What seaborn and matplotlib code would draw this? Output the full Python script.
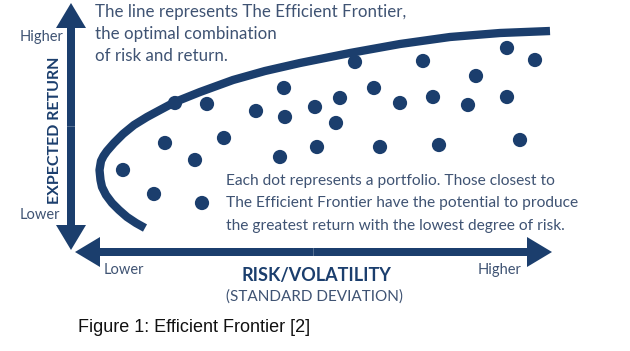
import matplotlib
matplotlib.use("Agg")
import matplotlib.pyplot as plt
import seaborn as sns
import pandas as pd

# Portfolios: risk (x) and expected return (y), in drawing units of the canvas
portfolio_risk = [123, 154, 202, 165, 195, 175, 207, 224, 256, 284, 285, 280, 315, 317,
                  355, 340, 336, 374, 400, 380, 423, 433, 439, 476, 468, 507, 507, 535, 520]
portfolio_return = [181, 157, 148, 208, 191, 248, 247, 213, 240, 263, 234, 194, 244, 204,
                    289, 253, 228, 263, 248, 204, 290, 254, 206, 275, 246, 303, 254, 291, 211]

# The efficient frontier, traced from its lower tip round the nose and out to the right
frontier_risk = [145, 136, 127, 119, 112, 106, 102, 100.5, 99.5, 99.5, 101, 103.5, 107,
                 114, 123, 134, 147, 160, 175, 200, 233, 265, 300, 350, 400, 450, 500, 550]
frontier_return = [123, 128, 134, 141, 148, 156, 164, 171, 178, 184, 190, 195, 200,
                   208, 217, 226, 234, 241, 249, 259, 271, 280, 288, 298, 307, 314, 318, 320]

axis_title_x = "RISK/VOLATILITY"
axis_subtitle_x = "(STANDARD DEVIATION)"
axis_title_y = "EXPECTED RETURN"
low_label, high_label = "Lower", "Higher"
frontier_note = ["The line represents The Efficient Frontier,",
                 "the optimal combination",
                 "of risk and return."]
dot_note = ["Each dot represents a portfolio. Those closest to",
            "The Efficient Frontier have the potential to produce",
            "the greatest return with the lowest degree of risk."]
caption = "Figure 1: Efficient Frontier [2]"

NAVY = "#1b3e6d"
TEXT = "#3f5373"

sns.set_theme(style="white")
plt.rcParams["font.family"] = ["Lato", "DejaVu Sans"]

fig = plt.figure(figsize=(6.30, 3.51), dpi=100)
ax = fig.add_axes([0, 0, 1, 1])
ax.set_xlim(0, 630)
ax.set_ylim(0, 351)
ax.axis("off")

frontier = pd.DataFrame({"risk": frontier_risk, "ret": frontier_return})
sns.lineplot(data=frontier, x="risk", y="ret", sort=False, ax=ax, color=NAVY,
             linewidth=6.0, solid_capstyle="butt", solid_joinstyle="round")

portfolios = pd.DataFrame({"risk": portfolio_risk, "ret": portfolio_return})
sns.scatterplot(data=portfolios, x="risk", y="ret", ax=ax, color=NAVY, s=105,
                edgecolor="none", zorder=3)
ax.set_xlabel("")
ax.set_ylabel("")

# Double-headed axis arrows
arrow_kw = dict(width=8, head_width=30, head_length=25, length_includes_head=True,
                color=NAVY, linewidth=0)
vx, vy0, vy1 = 71, 101, 348
vmid = (vy0 + vy1) / 2
ax.arrow(vx, vmid, 0, vy1 - vmid, **arrow_kw)
ax.arrow(vx, vmid, 0, vy0 - vmid, **arrow_kw)
hy, hx0, hx1 = 99, 75, 552
hmid = (hx0 + hx1) / 2
ax.arrow(hmid, hy, hx1 - hmid, 0, **arrow_kw)
ax.arrow(hmid, hy, hx0 - hmid, 0, **arrow_kw)

# Annotations
for i, line in enumerate(frontier_note):
    ax.text(95, 334 - 22 * i, line, fontsize=12.2, color=TEXT, va="baseline", ha="left")
for i, line in enumerate(dot_note):
    ax.text(226, 166 - 22.5 * i, line, fontsize=11.2, color=TEXT, va="baseline", ha="left")

ax.text(20, 314, high_label, fontsize=10.5, color=TEXT, va="center", ha="left")
ax.text(20, 136, low_label, fontsize=10.5, color=TEXT, va="center", ha="left")
ax.text(104, 81, low_label, fontsize=10.5, color=TEXT, va="center", ha="left")
ax.text(478, 81, high_label, fontsize=10.5, color=TEXT, va="center", ha="left")

ax.text(316, 76, axis_title_x, fontsize=13, fontweight="bold", color=NAVY,
        va="center", ha="center")
ax.text(315, 54, axis_subtitle_x, fontsize=11, color=TEXT, va="center", ha="center")
ax.text(55, 221, axis_title_y, fontsize=11.5, fontweight="bold", color=NAVY,
        va="center", ha="center", rotation=90)

ax.text(78, 23, caption, fontsize=13, color="#111111", va="center", ha="left",
        family=["Liberation Sans", "DejaVu Sans"])

fig.savefig("out.png", dpi=100, facecolor="white")
